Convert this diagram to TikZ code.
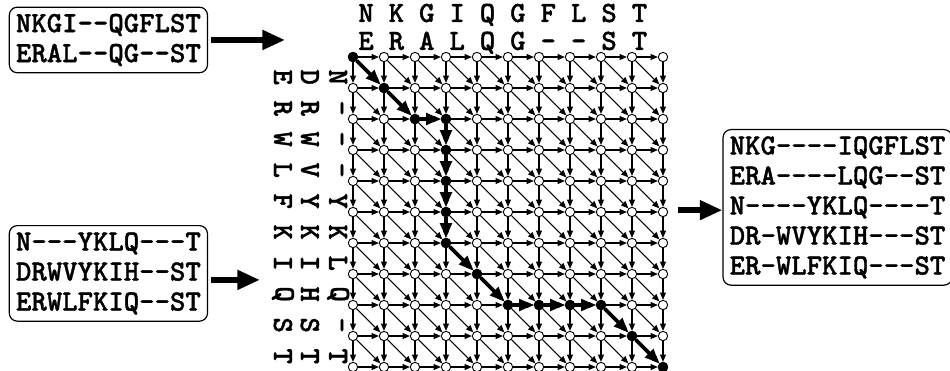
\documentclass[tikz,border=0pt]{standalone}
\usepackage{fontspec}
\newfontfamily\seqfont{lmmonolt10-bold.otf}[FakeBold=1.2]
\usetikzlibrary{positioning,arrows.meta}
\tikzset{
  seq/.style={font=\seqfont\fontsize{22}{22.5}\selectfont, inner sep=0pt},
  seqbox/.style={seq, draw, rounded corners=6pt, line width=0.9pt, align=left, inner sep=5pt},
  dot/.style={circle, draw, fill=white, line width=0.7pt, minimum size=7pt, inner sep=0pt},
  hit/.style={dot, fill=black},
  link/.style={-{Triangle[length=5.5pt,width=4.5pt]}, line width=0.8pt},
  trace/.style={-{Triangle[length=11pt,width=8.5pt]}, line width=2.8pt},
  bigarrow/.style={-{Triangle[length=17pt,width=14pt]}, line width=5pt}
}

\begin{document}
\begin{tikzpicture}[x=0.817cm, y=0.817cm]
    \useasboundingbox (-11.387,1.839) rectangle (19.258,-10.097);
    % input alignments and result
    \node[seqbox] (box1) at (-7.89,0.55) {NKGI--QGFLST\\ERAL--QG--ST};
    \node[seqbox] (box2) at (-7.89,-6.98) {N---YKLQ---T\\DRWVYKIH--ST\\ERWLFKIQ--ST};
    \node[seqbox] (box3) at (15.63,-4.85) {NKG----IQGFLST\\ERA----LQG--ST\\N----YKLQ----T\\DR-WVYKIH---ST\\ER-WLFKIQ---ST};
    % sequence letters along the grid
    \foreach \c [count=\k from 0] in {N,K,G,I,Q,G,F,L,S,T}
      \node[seq, anchor=base] (topa\k) at (\k*0.98+0.42,1.13) {\c};
    \foreach \c [count=\k from 0] in {E,R,A,L,Q,G,-,-,S,T}
      \node[seq, anchor=base] (topb\k) at (\k*0.98+0.42,0.23) {\c};
    \foreach \c [count=\k from 0] in {N,-,-,-,Y,K,L,Q,-,T}
      \node[seq, rotate=-90] (lefta\k) at (-0.48,-\k-0.65) {\c};
    \foreach \c [count=\k from 0] in {D,R,W,V,Y,K,I,H,S,T}
      \node[seq, rotate=-90] (leftb\k) at (-1.39,-\k-0.65) {\c};
    \foreach \c [count=\k from 0] in {E,R,W,L,F,K,I,Q,S,T}
      \node[seq, rotate=-90] (leftc\k) at (-2.26,-\k-0.65) {\c};
    % grid nodes
    \foreach \i in {0,...,10}
      \foreach \j in {0,...,10}
        \node[dot] (n\i-\j) at (\i,-\j) {};
    \foreach \i/\j in {0/0,1/1,2/2,3/2,3/3,3/4,3/5,3/6,4/7,5/8,6/8,7/8,8/8,9/9,10/10}
      \node[hit] (n\i-\j) at (\i,-\j) {};
    % grid edges
    \foreach \i in {0,...,10}
      \foreach \j in {0,...,10} {
        \pgfmathtruncatemacro\ii{\i+1}
        \pgfmathtruncatemacro\jj{\j+1}
        \ifnum\i<10 \draw[link] (n\i-\j) -- (n\ii-\j); \fi
        \ifnum\j<10 \draw[link] (n\i-\j) -- (n\i-\jj); \fi
        \ifnum\i<10 \ifnum\j<10 \draw[link] (n\i-\j) -- (n\ii-\jj); \fi\fi
      }
    % best path
    \foreach \a/\b in {0-0/1-1,1-1/2-2,2-2/3-2,3-2/3-3,3-3/3-4,3-4/3-5,3-5/3-6,3-6/4-7,4-7/5-8,5-8/6-8,6-8/7-8,7-8/8-8,8-8/9-9,9-9/10-10}
      \draw[trace] (n\a) -- (n\b);
    % big arrows
    \coordinate (in1) at (-2.19,0.55);
    \coordinate (in2) at (-3.0,-7.19);
    \coordinate (out3) at (10.48,-4.94);
    \draw[bigarrow, shorten <=2pt] (box1.east) -- (in1);
    \draw[bigarrow, shorten <=2pt] (box2.east |- in2) -- (in2);
    \draw[bigarrow] (out3) -- (box3.west |- out3);
\end{tikzpicture}
\end{document}
